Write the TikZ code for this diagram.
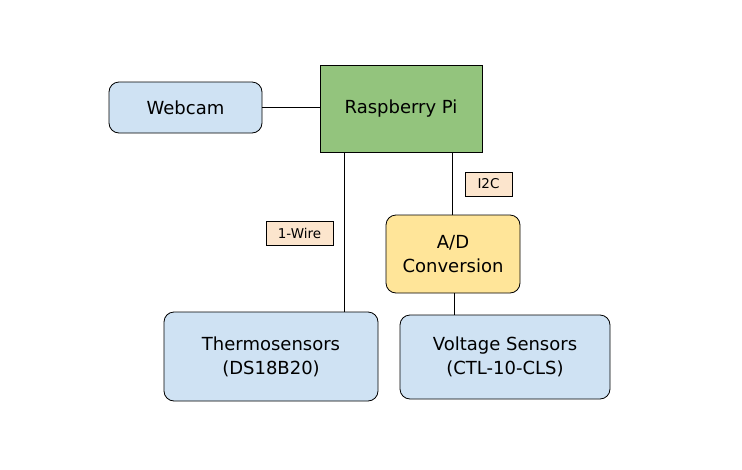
\documentclass[tikz,border=0pt]{standalone}
\usepackage{fontspec}
\setmainfont{DejaVu Sans}
\definecolor{boxblue}{HTML}{CFE2F3}
\definecolor{pigreen}{HTML}{93C47D}
\definecolor{adyellow}{HTML}{FFE599}
\definecolor{lblfill}{HTML}{FCE5CD}
\begin{document}
\begin{tikzpicture}[x=1pt,y=-1pt,
  box/.style={draw=black, line width=0.8pt, rounded corners=10pt, align=center, inner sep=0pt, font=\fontsize{18}{24}\selectfont},
  lbl/.style={draw=black, line width=0.6pt, fill=lblfill, inner sep=0pt, font=\fontsize{13.5}{16}\selectfont},
  wire/.style={draw=black, line width=0.8pt}]
\useasboundingbox (0,0) rectangle (742,469);
\fill[white] (0,0) rectangle (742,469);
\node[box, fill=boxblue, minimum width=153pt, minimum height=51pt] (web) at (185.5,107.5) {Webcam};
\node[box, fill=pigreen, rounded corners=0pt, minimum width=162pt, minimum height=87pt] (pi) at (401,108.5) {Raspberry Pi};
\node[box, fill=adyellow, minimum width=134pt, minimum height=78pt] (ad) at (453,254) {A/D\\Conversion};
\node[box, fill=boxblue, minimum width=214pt, minimum height=89pt] (thermo) at (271,356.5) {Thermosensors\\(DS18B20)};
\node[box, fill=boxblue, minimum width=210pt, minimum height=84pt] (volt) at (505,357) {Voltage Sensors\\(CTL-10-CLS)};
\coordinate (piT) at (344,152);
\coordinate (piA) at (452,152);
\draw[wire] (web.east) -- (pi.west |- web.east);
\draw[wire] (piT) -- (piT |- thermo.north);
\draw[wire] (piA) -- (piA |- ad.north);
\draw[wire] (ad.south -| 454,0) -- (454,0 |- volt.north);
\node[lbl, minimum width=47pt, minimum height=24pt] (i2c) at (488.5,184) {I2C};
\node[lbl, minimum width=67pt, minimum height=24pt] (ow) at (299.5,233) {1-Wire};
\end{tikzpicture}
\end{document}
